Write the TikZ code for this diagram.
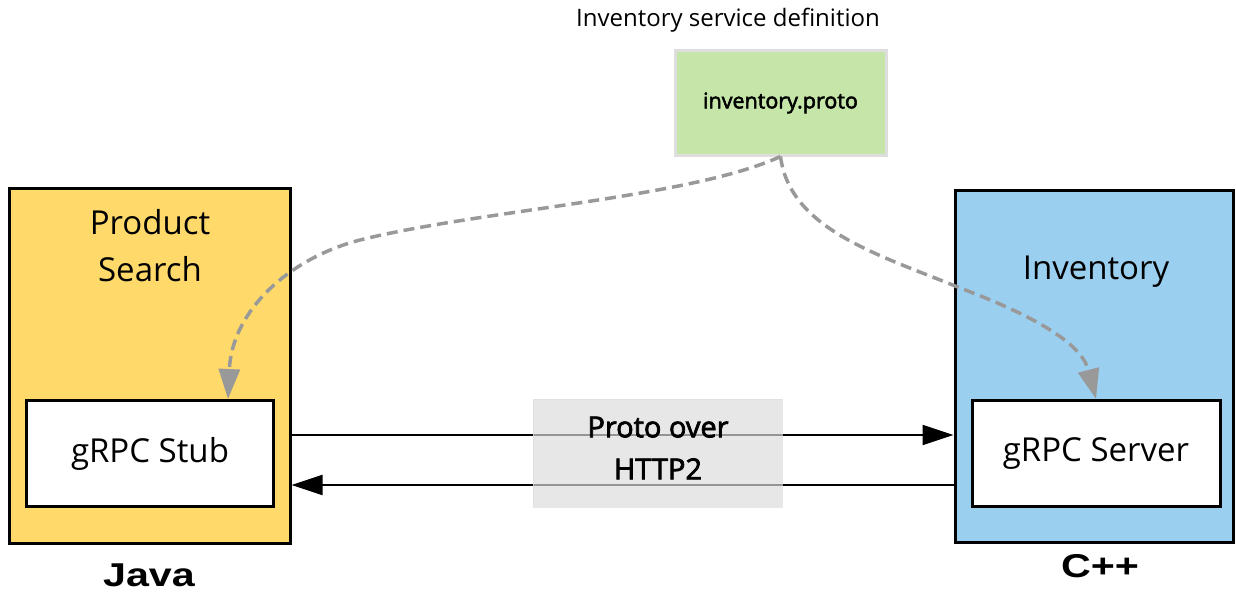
\documentclass[tikz,border=0pt]{standalone}
\usepackage{fontspec}
\setmainfont{Open Sans}
\newfontfamily\medfont[FakeBold=2.5]{Open Sans}
\newfontfamily\langfont[FakeStretch=1.25]{Liberation Sans}
\usetikzlibrary{arrows.meta,calc}

\definecolor{psfill}{RGB}{255,218,107}
\definecolor{invfill}{RGB}{155,207,240}
\definecolor{protofill}{RGB}{197,230,168}
\definecolor{protoedge}{RGB}{222,222,222}
\definecolor{wirefill}{RGB}{220,220,220}
\definecolor{defarrow}{RGB}{153,153,153}

\tikzset{
  service/.style={draw=black, line width=3pt, inner sep=0pt},
  endpoint/.style={draw=black, line width=3pt, fill=white, inner sep=0pt,
    minimum width=247pt, minimum height=106pt,
    font=\fontsize{33}{40}\selectfont},
  svctitle/.style={align=center, inner sep=0pt, font=\fontsize{33}{47}\selectfont},
  langlabel/.style={inner sep=0pt, font=\langfont\bfseries\fontsize{33}{38}\selectfont},
  flow/.style={line width=2pt, -{Triangle[length=31pt,width=20pt]}},
  gen/.style={defarrow, line width=3.5pt, dash pattern=on 11pt off 6pt,
    -{Triangle[length=30pt,width=21pt]}},
}

\begin{document}
\begin{tikzpicture}[x=1pt,y=-1pt]
  \useasboundingbox (0,0) rectangle (1236,594);

  % services
  \node[service, fill=psfill, minimum width=281pt, minimum height=355pt]
    (ps) at (149.5,365.5) {};
  \node[service, fill=invfill, minimum width=278pt, minimum height=352pt]
    (inv) at (1094,366) {};
  \node[svctitle] (pstitle) at (150,246) {Product\\Search};
  \node[svctitle] (invtitle) at (1096,272) {Inventory};

  % gRPC endpoints
  \node[endpoint] (stub) at (150,453.5) {gRPC Stub};
  \node[endpoint, minimum width=248pt] (server) at (1096,453.5) {gRPC Server};

  % service definition
  \node[draw=protoedge, line width=3pt, fill=protofill, inner sep=0pt,
    minimum width=211pt, minimum height=104pt,
    font=\medfont\fontsize{21.5}{26}\selectfont] (proto) at (780.5,103) {inventory.proto};
  \node[inner sep=0pt, font=\fontsize{24}{29}\selectfont] (deftitle) at (728,20)
    {Inventory service definition};

  % code generated from the definition
  \draw[gen] (proto.south) .. controls (690,198) and (480,210) .. (360,240)
    .. controls (290,258) and (232,310) .. ([xshift=78pt]stub.north);
  \draw[gen] (proto.south) .. controls (790,230) and (880,255) .. (960,288)
    .. controls (1040,318) and (1082,345) .. (server.north);

  % request and response
  \draw[flow] ([yshift=-69.5pt]ps.east) -- ([yshift=-69pt]inv.west);
  \draw[flow] ([yshift=-119pt]inv.west) -- ([yshift=-119.5pt]ps.east);

  % transport
  \node[draw=wirefill, line width=1pt, fill=wirefill, fill opacity=0.68,
    draw opacity=0.68, minimum width=249pt, minimum height=108pt]
    (wire) at (657.5,453) {};
  \node[align=center, inner sep=0pt, font=\medfont\fontsize{29}{42}\selectfont]
    (wiretext) at (658,448) {Proto over\\HTTP2};

  % languages
  \node[langlabel] (java) at (149,575) {Java};
  \node[langlabel] (cpp) at (1100,566) {C++};
\end{tikzpicture}
\end{document}
